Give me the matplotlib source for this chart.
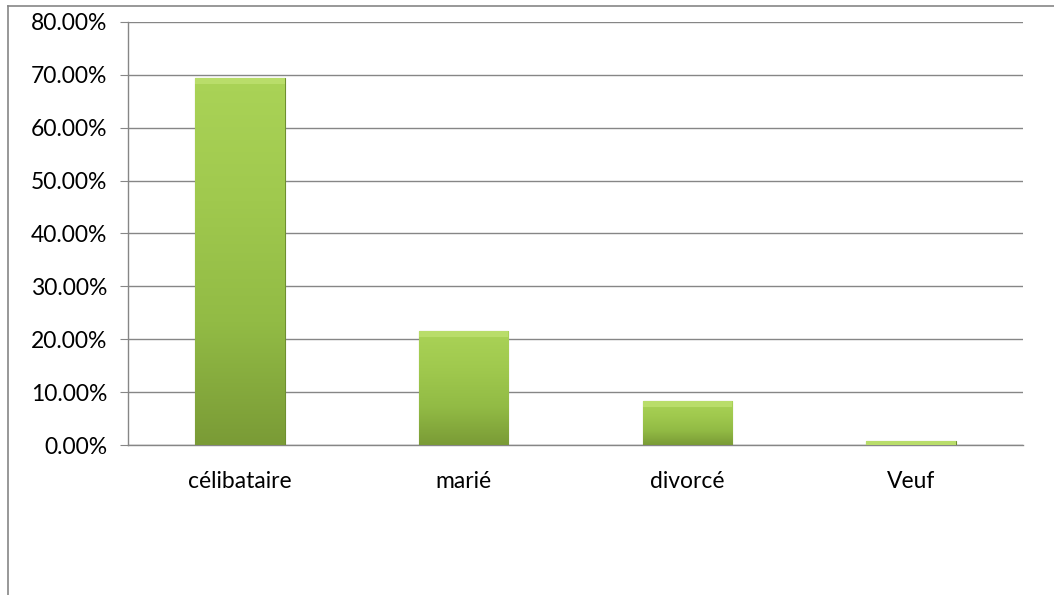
import numpy as np
import matplotlib.pyplot as plt
from matplotlib.colors import LinearSegmentedColormap
from matplotlib.patches import Rectangle
from matplotlib.ticker import FuncFormatter

# Données
categories = ['célibataire', 'marié', 'divorcé', 'Veuf']
valeurs = [69.4, 21.6, 8.3, 0.7]

plt.rcParams['font.family'] = ['Lato', 'DejaVu Sans']

fig = plt.figure(figsize=(10.54, 5.95), dpi=100)
ax = fig.add_axes([128 / 1054, 1 - 445 / 595, (1023 - 128) / 1054, (445 - 22) / 595])

x = np.arange(len(categories))
bars = ax.bar(x, valeurs, width=0.4, color='#94bd48', edgecolor='#6e8f30',
              linewidth=0.8, zorder=3)

# dégradé vertical dans chaque barre
cmap = LinearSegmentedColormap.from_list('vert', ['#aad357', '#a0c94e', '#92bb45', '#7a9b36'])
grad = np.linspace(0, 1, 256).reshape(-1, 1)
for b in bars:
    x0, y0 = b.get_x(), b.get_y()
    w, h = b.get_width(), b.get_height()
    im = ax.imshow(grad, cmap=cmap, aspect='auto', extent=(x0, x0 + w, y0, y0 + h),
                   origin='upper', zorder=3.5)
    im.set_clip_path(b)
    # bord supérieur plus clair (biseau)
    ax.add_patch(Rectangle((x0, y0 + h - min(h, 1.2)), w, min(h, 1.2),
                           color='#b9dd6a', zorder=3.6, lw=0))

ax.set_xlim(-0.5, len(categories) - 0.5)
ax.set_ylim(0, 80)
ax.set_yticks(np.arange(0, 81, 10))
ax.yaxis.set_major_formatter(FuncFormatter(lambda v, p: f'{v:.2f}%'))
ax.set_xticks(x)
ax.set_xticklabels(categories)

ax.grid(axis='y', color='#868686', linewidth=1.0, zorder=0)
for s in ['top', 'right']:
    ax.spines[s].set_visible(False)
for s in ['left', 'bottom']:
    ax.spines[s].set_color('#868686')
    ax.spines[s].set_linewidth(1.0)
ax.tick_params(axis='y', length=6, color='#868686', labelsize=16.5, pad=9)
ax.tick_params(axis='x', length=0, labelsize=16.5, pad=19)

# cadre du graphique
fig.add_artist(plt.Line2D([8 / 1054, 1.0], [1 - 6 / 595] * 2, color='#868686', lw=1.2))
fig.add_artist(plt.Line2D([8 / 1054] * 2, [0, 1 - 6 / 595], color='#868686', lw=1.2))

fig.savefig('out.png', dpi=100)
